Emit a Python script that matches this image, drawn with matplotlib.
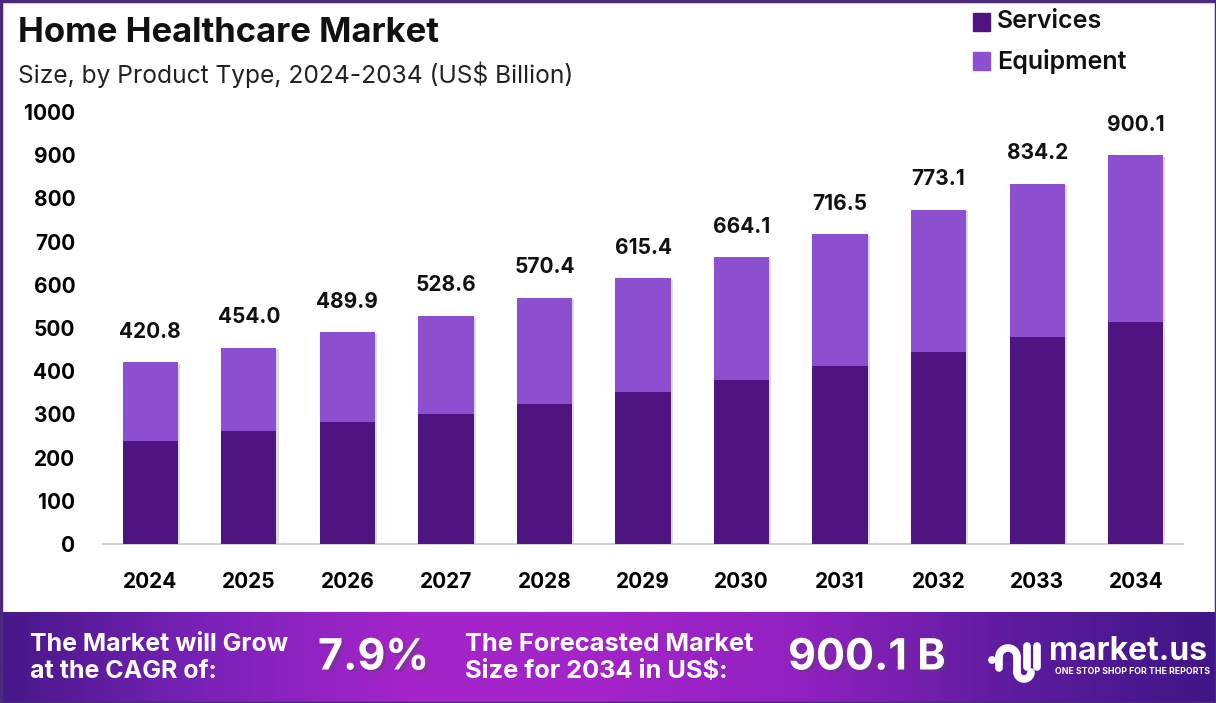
import matplotlib
matplotlib.use("Agg")
import matplotlib.pyplot as plt
import numpy as np
from matplotlib.colors import LinearSegmentedColormap
import matplotlib.patheffects as pe
from matplotlib.patches import Rectangle, Circle

years = ["2024", "2025", "2026", "2027", "2028", "2029", "2030", "2031", "2032", "2033", "2034"]
totals = [420.8, 454.0, 489.9, 528.6, 570.4, 615.4, 664.1, 716.5, 773.1, 834.2, 900.1]
services = [239.0, 260.6, 281.4, 301.6, 325.0, 352.7, 380.5, 411.0, 444.0, 478.7, 515.0]
equipment = [t - s for t, s in zip(totals, services)]
yticks = [0, 100, 200, 300, 400, 500, 600, 700, 800, 900, 1000]

C_SERV = "#4e1580"
C_EQUIP = "#8c4fcf"
FONT = ["Inter", "DejaVu Sans"]
plt.rcParams["font.family"] = FONT

W, H = 1216, 703
fig = plt.figure(figsize=(W / 100, H / 100), dpi=100)
fig.patch.set_facecolor("white")

ax = fig.add_axes([103 / W, 1 - 544 / H, (1183 - 103) / W, (544 - 112) / H])
x = np.arange(len(years))
BW = 0.56
# soft shadow behind the full stacked bar
sb = ax.bar(x, totals, width=BW, color="white", zorder=2)
for b in sb:
    b.set_path_effects([pe.SimplePatchShadow(offset=(1.5, -1), shadow_rgbFace="#888888", alpha=0.3)])
ax.bar(x, services, width=BW, color=C_SERV, label="Services", zorder=3)
ax.bar(x, equipment, bottom=services, width=BW, color=C_EQUIP, label="Equipment", zorder=3)
for xi, t in zip(x, totals):
    ax.annotate(f"{t:.1f}", (xi, t), xytext=(0, 22), textcoords="offset points",
                ha="center", va="center", fontsize=15, fontweight="bold", color="#111111")
ax.set_xlim(-0.48, len(years) - 0.52)
ax.set_ylim(0, 1000)
ax.set_yticks(yticks)
ax.set_yticklabels([str(v) for v in yticks], fontsize=15, fontweight="bold")
ax.set_xticks(x)
ax.set_xticklabels(years, fontsize=15, fontweight="bold")
ax.tick_params(axis="y", length=0, pad=20)
ax.tick_params(axis="x", length=0, pad=20)
for s in ["top", "right", "left"]:
    ax.spines[s].set_visible(False)
ax.spines["bottom"].set_color("#d0d0d0")
ax.spines["bottom"].set_linewidth(1.5)
ax.set_facecolor("none")

# Title
fig.text(18 / W, 1 - 33 / H, "Home Healthcare Market", fontsize=25, fontweight="bold",
         ha="left", va="center", color="#111111")
fig.text(18 / W, 1 - 75 / H, "Size, by Product Type, 2024-2034 (US$ Billion)", fontsize=17.7,
         ha="left", va="center", color="#222222")

# Legend
for i, (lab, col) in enumerate([("Services", C_SERV), ("Equipment", C_EQUIP)]):
    yc = 22 + i * 39
    fig.patches.append(Rectangle((973 / W, 1 - (yc + 9) / H), 17 / W, 18 / H,
                                 transform=fig.transFigure, color=col))
    fig.text(997 / W, 1 - yc / H, lab, fontsize=18, fontweight="semibold", ha="left", va="center",
             color="#111111")

# Border frame
fig.patches.append(Rectangle((0.5 / W, 0), 1 - 1 / W, 1 - 0.5 / H, transform=fig.transFigure,
                             fill=False, edgecolor="#4b2a7b", linewidth=2.5))

# Footer (pixel coordinates inside footer axes)
FH = 91
fax = fig.add_axes([0, 0, 1, FH / H])
cmap = LinearSegmentedColormap.from_list(
    "ft", ["#461888", "#7a22b8", "#a424c9", "#a324c8", "#8f21c0", "#5d1c9e", "#3f1686"])
grad = np.linspace(0, 1, 512).reshape(1, -1)
fax.imshow(grad, aspect="auto", cmap=cmap, extent=[0, W, 0, FH])
fax.set_xlim(0, W)
fax.set_ylim(0, FH)
fax.axis("off")


def fy(p):
    return H - p


shadow_txt = [pe.withSimplePatchShadow(offset=(2, -2), alpha=0.35)]
fax.text(30, fy(658), "The Market will Grow\nat the CAGR of:", color="white", fontsize=18,
         fontweight="bold", ha="left", va="center", linespacing=1.25)
fax.text(318, fy(658), "7.9%", color="white", fontsize=31, fontweight="bold", ha="left", va="center",
         path_effects=shadow_txt)
fax.text(465, fy(658), "The Forecasted Market\nSize for 2034 in US$:", color="white", fontsize=18.3,
         fontweight="bold", ha="left", va="center", linespacing=1.25)
fax.text(788, fy(658), "900.1 B", color="white", fontsize=31, fontweight="bold", ha="left", va="center",
         path_effects=shadow_txt)

# logo glyph
lw = 5.5
fax.add_patch(Circle((992, fy(660)), 3.2, color="white"))
t = np.linspace(np.pi, 0, 40)
fax.plot(1008 + 9 * np.cos(t), fy(657) + 9 * np.sin(t), color="white", lw=lw, solid_capstyle="round")
fax.plot([999, 999], [fy(657), fy(668)], color="white", lw=lw, solid_capstyle="round")
t2 = np.linspace(np.pi, 2 * np.pi, 30)
fax.plot([1017, 1017], [fy(657), fy(672)], color="white", lw=lw, solid_capstyle="round")
fax.plot(1024 + 7 * np.cos(t2), fy(672) + 7 * np.sin(t2), color="white", lw=lw, solid_capstyle="round")
fax.plot([1027, 1027], [fy(646), fy(667)], color="white", lw=lw, solid_capstyle="round")
fax.plot([1037, 1037], [fy(646), fy(667)], color="white", lw=lw, solid_capstyle="round")
fax.text(1049, fy(652), "market.us", color="white", fontsize=23, fontweight="bold",
         ha="left", va="center")
fax.text(1055, fy(671), "ONE STOP SHOP FOR THE REPORTS", color="white", fontsize=6.3,
         fontweight="bold", ha="left", va="center")

fig.savefig("out.png", dpi=100, facecolor="white")
